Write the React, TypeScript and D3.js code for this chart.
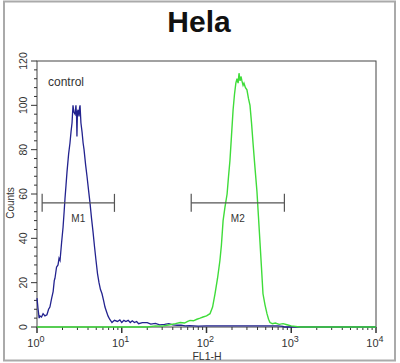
import React, { useEffect, useRef } from "react";
import * as d3 from "d3";

// FL1-H value, counts
const controlHist: [number, number][] = [
  [1.0, 13], [1.03, 8], [1.06, 4], [1.085, 5], [1.13, 4.5], [1.18, 6], [1.24, 5], [1.31, 5.5],
  [1.37, 8], [1.42, 9], [1.49, 13], [1.55, 16], [1.6, 21], [1.63, 22], [1.7, 27], [1.77, 28],
  [1.82, 31], [1.87, 30], [1.95, 38], [2.03, 45], [2.09, 52], [2.14, 58], [2.2, 64], [2.26, 70],
  [2.36, 78], [2.45, 83], [2.52, 88], [2.59, 92], [2.66, 100], [2.72, 97], [2.81, 96],
  [2.88, 100], [2.93, 95], [2.96, 86], [3.0, 97], [3.05, 98], [3.13, 95], [3.18, 99],
  [3.22, 100], [3.3, 92], [3.4, 88], [3.5, 83], [3.59, 80], [3.75, 73], [3.89, 68],
  [4.05, 62], [4.22, 56], [4.4, 49], [4.58, 43], [4.78, 36], [4.97, 30], [5.18, 24],
  [5.39, 20], [5.6, 17], [5.85, 15], [6.1, 12], [6.34, 9], [6.6, 7], [6.88, 5], [7.2, 3.5],
  [7.67, 2], [8.2, 3], [8.9, 2.5], [9.5, 3.2], [10, 2], [10.6, 3], [11.2, 2.5], [11.9, 3],
  [12.6, 2], [13.3, 2.8], [14.1, 2], [15, 2.5], [15.8, 1.5], [17.5, 2], [20, 2], [22, 1.3],
  [25, 1.6], [28, 1], [32, 1.2], [36, 1.5], [40, 1], [45, 0.8], [50, 0.8], [56, 0.5],
  [63, 0.6], [80, 0.4], [100, 0.5], [200, 0.5], [400, 0.5], [700, 0.5], [800, 0.3], [830, 0],
  [10000, 0]
];

const sampleHist: [number, number][] = [
  [1, 0], [20, 0], [25, 0.5], [30, 0.4], [37, 1], [43, 1.5], [49, 2], [55, 1.8], [60, 2.5],
  [64, 3], [70, 2.8], [77, 3.5], [84, 4], [91, 4.5], [100, 5], [110, 6], [118, 9], [126, 15],
  [135, 22], [144, 30], [150, 37], [157, 48], [165, 54], [175, 60], [182, 68], [189, 75],
  [197, 86], [206, 98], [214, 105], [222, 110], [229, 112], [236, 110], [242, 114.5],
  [249, 111], [255, 113], [262, 111], [270, 109], [277, 110], [288, 108], [300, 107],
  [313, 103], [326, 100], [340, 92], [354, 83], [373, 72], [394, 61], [410, 50], [428, 38],
  [445, 27], [464, 15], [490, 10], [517, 6], [540, 3.5], [561, 2], [600, 1.5], [650, 1.8],
  [720, 1.2], [800, 1.5], [891, 1], [1000, 0.5], [1260, 0], [10000, 0]
];

const markers = [
  { name: "M1", from: 1.15, to: 8.2 },
  { name: "M2", from: 66, to: 830 }
];

const yTicks = [0, 20, 40, 60, 80, 100, 120];
const xDecades = [0, 1, 2, 3, 4];

const W = 400, H = 363;
const margin = { left: 37, right: 24, top: 61, bottom: 36 };

export default function App() {
  const ref = useRef<SVGSVGElement>(null);

  useEffect(() => {
    document.body.style.margin = "0";
    const svg = d3.select(ref.current);
    svg.selectAll("*").remove();

    const x = d3.scaleLog().domain([1, 10000]).range([margin.left, W - margin.right]);
    const y = d3.scaleLinear().domain([0, 120]).range([H - margin.bottom, margin.top]);
    const font = "Liberation Sans, Arial, sans-serif";

    svg.append("rect").attr("width", W).attr("height", H).attr("fill", "#fff");
    // outer frame
    svg.append("rect")
      .attr("x", 4).attr("y", 1.5).attr("width", 391).attr("height", 359)
      .attr("fill", "none").attr("stroke", "#aaa").attr("stroke-width", 2);

    svg.append("text")
      .attr("x", 199).attr("y", 32)
      .attr("text-anchor", "middle")
      .attr("font-family", font).attr("font-weight", "bold").attr("font-size", 30)
      .attr("fill", "#111")
      .text("Hela");

    // plot frame
    svg.append("rect")
      .attr("x", margin.left).attr("y", margin.top)
      .attr("width", W - margin.left - margin.right)
      .attr("height", H - margin.top - margin.bottom)
      .attr("fill", "none").attr("stroke", "#444").attr("stroke-width", 1);

    // y ticks
    const yg = svg.append("g");
    d3.range(0, 121, 4).forEach(v => {
      const major = v % 20 === 0;
      yg.append("line")
        .attr("x1", margin.left - (major ? 6 : 3)).attr("x2", margin.left)
        .attr("y1", y(v)).attr("y2", y(v))
        .attr("stroke", "#333").attr("stroke-width", 1);
    });
    yTicks.forEach(v => {
      yg.append("text")
        .attr("transform", `translate(27,${y(v)}) rotate(-90)`)
        .attr("text-anchor", "middle")
        .attr("font-family", font).attr("font-size", 10.5)
        .attr("fill", "#333")
        .text(v);
    });
    svg.append("text")
      .attr("transform", `translate(14,${203}) rotate(-90)`)
      .attr("text-anchor", "middle")
      .attr("font-family", font).attr("font-size", 10)
      .attr("fill", "#333")
      .text("Counts");

    // x ticks
    const xg = svg.append("g");
    xDecades.forEach(d => {
      const base = Math.pow(10, d);
      xg.append("line")
        .attr("x1", x(base)).attr("x2", x(base))
        .attr("y1", y(0)).attr("y2", y(0) + 6)
        .attr("stroke", "#333").attr("stroke-width", 1.5);
      if (d < 4) {
        d3.range(2, 10).forEach(k => {
          xg.append("line")
            .attr("x1", x(base * k)).attr("x2", x(base * k))
            .attr("y1", y(0)).attr("y2", y(0) + 3)
            .attr("stroke", "#333").attr("stroke-width", 1);
        });
      }
      const t = xg.append("text")
        .attr("x", x(base) - 1).attr("y", 347)
        .attr("text-anchor", "middle")
        .attr("font-family", font).attr("font-size", 11)
        .attr("fill", "#333");
      t.append("tspan").text("10");
      t.append("tspan").attr("dy", -5).attr("font-size", 9).text(d);
    });
    svg.append("text")
      .attr("x", 207).attr("y", 360)
      .attr("text-anchor", "middle")
      .attr("font-family", font).attr("font-size", 10.5)
      .attr("fill", "#333")
      .text("FL1-H");

    // histograms
    const line = d3.line<[number, number]>()
      .x(d => x(d[0]))
      .y(d => y(d[1]));

    svg.append("path")
      .datum(controlHist)
      .attr("d", line)
      .attr("fill", "none").attr("stroke", "#23238f").attr("stroke-width", 1.3);

    svg.append("path")
      .datum(sampleHist)
      .attr("d", line)
      .attr("fill", "none").attr("stroke", "#3fdc3a").attr("stroke-width", 1.4);

    // markers
    markers.forEach(m => {
      const g = svg.append("g").attr("stroke", "#555").attr("stroke-width", 1.2);
      const my = y(56);
      g.append("line").attr("x1", x(m.from)).attr("x2", x(m.to)).attr("y1", my).attr("y2", my);
      g.append("line").attr("x1", x(m.from)).attr("x2", x(m.from)).attr("y1", my - 9).attr("y2", my + 9);
      g.append("line").attr("x1", x(m.to)).attr("x2", x(m.to)).attr("y1", my - 9).attr("y2", my + 9);
      svg.append("text")
        .attr("x", (x(m.from) + x(m.to)) / 2)
        .attr("y", my + 19)
        .attr("text-anchor", "middle")
        .attr("font-family", font).attr("font-size", 10)
        .attr("fill", "#333")
        .text(m.name);
    });

    svg.append("text")
      .attr("x", 48).attr("y", 86)
      .attr("font-family", font).attr("font-size", 12)
      .attr("fill", "#333")
      .text("control");
  }, []);

  return <svg ref={ref} width={W} height={H} style={{ display: "block" }} />;
}
